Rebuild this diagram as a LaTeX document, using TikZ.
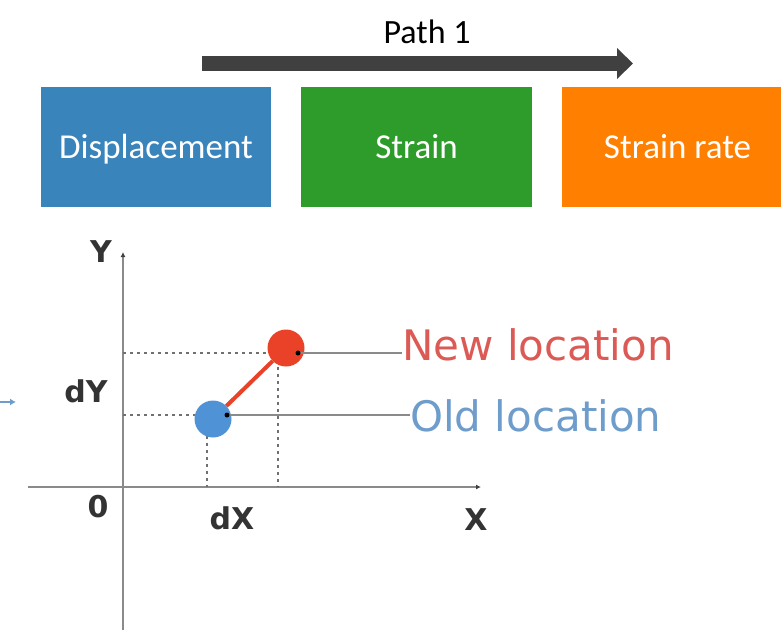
\documentclass[tikz,border=0pt]{standalone}
\usepackage{fontspec}
\setmainfont{Carlito}
\newfontfamily\verd{DejaVu Sans}
\usetikzlibrary{arrows.meta}
\definecolor{boxblue}{HTML}{3A84BC}
\definecolor{boxgreen}{HTML}{2E9C2B}
\definecolor{boxorange}{HTML}{FF7F00}
\definecolor{arrowgray}{HTML}{404040}
\definecolor{axisgray}{HTML}{8A8A8A}
\definecolor{dotred}{HTML}{EA4228}
\definecolor{dotblue}{HTML}{4F93D6}
\definecolor{txtred}{HTML}{DC5A55}
\definecolor{txtblue}{HTML}{6E9DCB}
\definecolor{lblgray}{HTML}{333333}
\tikzset{
  quantbox/.style={draw=none, minimum height=120pt, text=white, font=\fontsize{35}{40}\selectfont, inner sep=0pt, text height=28pt, text depth=6pt},
  axisline/.style={draw=axisgray, line width=1.5pt},
  guideline/.style={draw=lblgray!70, line width=1.3pt, dash pattern=on 3pt off 4pt},
  leaderline/.style={draw=axisgray, line width=1.5pt},
  axlabel/.style={font=\verd\bfseries\fontsize{30}{34}\selectfont, text=lblgray, inner sep=0pt},
  locdot/.style={circle, minimum size=37pt, inner sep=0pt, draw=none},
  loclabel/.style={font=\verd\fontsize{42}{48}\selectfont, inner sep=0pt, anchor=west},
}
\begin{document}
\begin{tikzpicture}[x=1pt,y=-1pt]
\useasboundingbox (0,0) rectangle (781,630);
\clip (0,0) rectangle (781,630);
% top boxes
\node[quantbox, fill=boxblue, minimum width=230pt] (disp) at (156,147) {Displacement};
\node[quantbox, fill=boxgreen, minimum width=231pt] (strain) at (416.5,147) {Strain};
\node[quantbox, fill=boxorange, minimum width=231pt] (rate) at (677.5,147) {Strain rate};
% path arrow
\coordinate (pa) at (202,63.5);
\coordinate (pb) at (633,63.5);
\draw[arrowgray, line width=15pt, -{Triangle[length=16pt, width=30pt]}] (pa) -- (pb);
\node[font=\fontsize{34}{40}\selectfont, text=black] (path) at (427,32) {Path 1};
% axes
\coordinate (xs) at (28,487);
\coordinate (xe) at (481,487);
\coordinate (ys) at (123,630);
\coordinate (ye) at (123,252);
\draw[axisline, -{Latex[length=5pt,width=5pt,color=arrowgray]}] (xs) -- (xe);
\draw[axisline, -{Latex[length=5pt,width=5pt,color=arrowgray]}] (ys) -- (ye);
% guide coordinates
\coordinate (rp) at (278,353);
\coordinate (bp) at (207,415);
\coordinate (rx) at (278,487);
\coordinate (bx) at (207,487);
\coordinate (ry) at (123,353);
\coordinate (by) at (123,415);
\draw[guideline] (ry) -- (rp);
\draw[guideline] (by) -- (bp);
\draw[guideline] (bp) -- (bx);
\draw[guideline] (rp) -- (rx);
% dots
\node[locdot, fill=dotblue] (old) at (213,419) {};
\node[locdot, fill=dotred] (new) at (286,348) {};
\draw[dotred, line width=4pt] (old) -- (new);
% labels
\node[loclabel, text=txtred] (newl) at (402,345) {New location};
\node[loclabel, text=txtblue] (oldl) at (410,416) {Old location};
\coordinate (rd) at (298,353);
\coordinate (bd) at (227,415);
\draw[leaderline] (rd) -- (newl.west |- rd);
\draw[leaderline] (bd) -- (oldl.west |- bd);
\fill[black] (rd) circle (2.5pt);
\fill[black] (bd) circle (2.5pt);
% axis labels
\node[axlabel] (ylab) at (101,252) {Y};
\node[axlabel] (dylab) at (86,391) {dY};
\node[axlabel] (zlab) at (98,507) {0};
\node[axlabel] (dxlab) at (232,518) {dX};
\node[axlabel] (xlab) at (476,520) {X};
% small blue arrow at left
\coordinate (sa) at (0,402);
\coordinate (sb) at (16,402);
\draw[txtblue, line width=1.5pt, -{Latex[length=6pt,width=7pt]}] (sa) -- (sb);
\end{tikzpicture}
\end{document}
